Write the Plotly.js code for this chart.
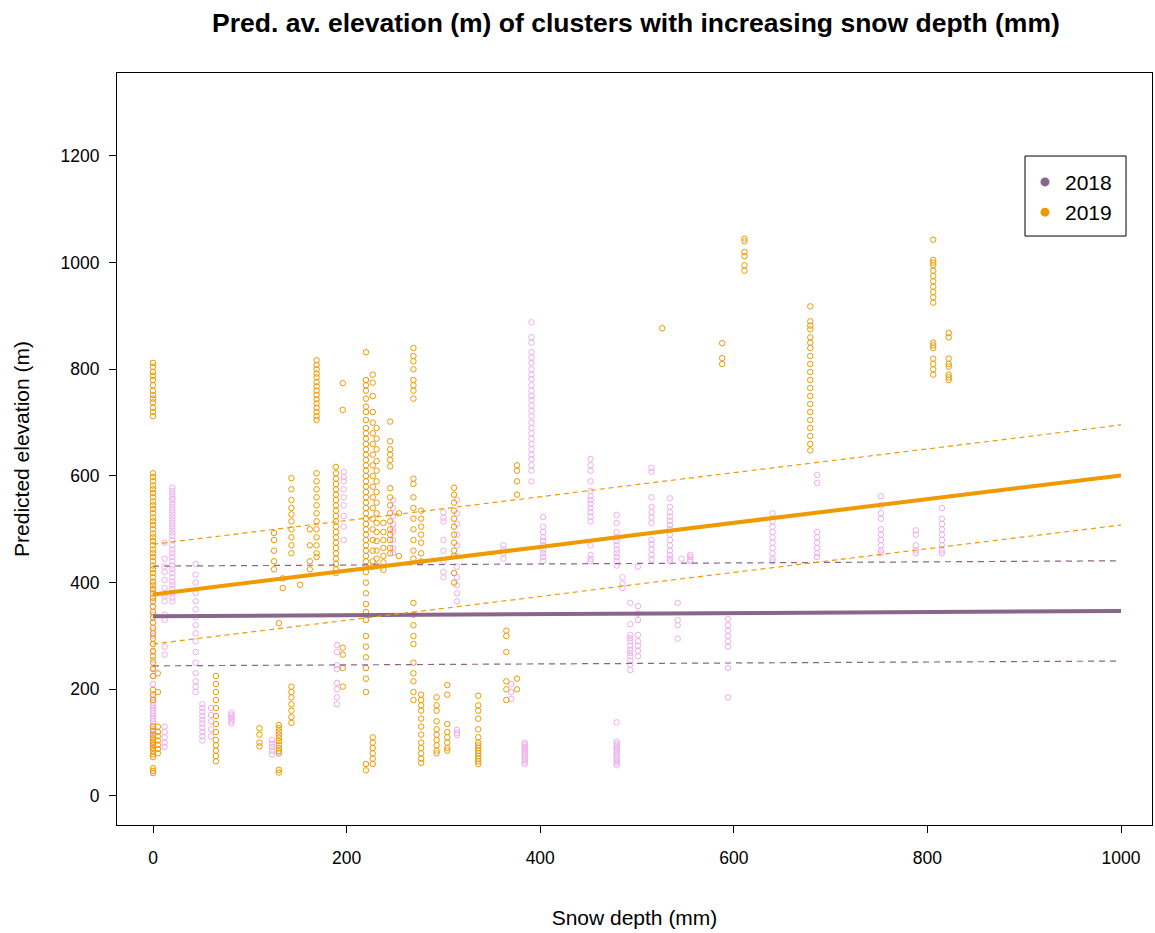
<!DOCTYPE html>
<html>
<head>
<meta charset="utf-8">
<script src="https://cdn.plot.ly/plotly-3.0.1.min.js"></script>
<style>html,body{margin:0;padding:0;background:#fff;}#chart{width:1155px;height:933px;}</style>
</head>
<body>
<div id="chart"></div>
<script>
// ---- Data ----
// Snow depth (mm) of each cluster column, and the predicted elevations (m) drawn at it
const snow2018 = [0, 12, 20, 44, 51, 60, 81, 123, 190, 197, 248, 300, 314, 362, 370, 384, 391, 403, 452, 479, 485, 493, 501, 515, 534, 542, 546, 555, 594, 640, 686, 752, 788, 815];
const elev2018 = [
  [400,385,370,355,340,325,310,300,285,270,255,240,225,210,186,180,175,170,165,160,155,150,145,140,135,130,125,120,115,110,105,100,95,90,88],
  [475,445,430,420,405,390,380,375,365,340,330,280,265,130,120,110,100,92],
  [578,572,566,560,555,548,542,536,530,524,518,512,506,500,494,488,480,470,462,455,448,440,432,425,418,410,402,395,388,380,372,365],
  [435,415,400,380,365,350,335,320,305,290,270,250,230,215,205,195],
  [172,165,158,150,143,136,128,120,112,104],
  [165,152,140,125,112],
  [156,152,148,144,140,136],
  [105,98,92,85,78],
  [283,270,245,238,212,200,185,172],
  [608,598,590,575,560,545,525,505,480],
  [555,540,525,510,500,495,480,465,455],
  [532,522,515,480,460,440,420,410],
  [555,530,510,490,470,450,430,410,395,380,365,124,118,114],
  [470,462,455,445],
  [210,195,182],
  [100,96,92,88,84,80,76,72,68,64,60],
  [888,860,850,832,822,812,800,790,782,770,760,750,742,732,722,712,700,690,680,670,660,650,640,632,620,610,590],
  [523,505,495,485,478,470,462,455,448,440],
  [632,620,610,590,572,562,555,548,540,532,524,515,470,452,445,440],
  [527,512,495,485,478,470,462,455,448,440,432,138,102,98,94,90,86,82,78,74,70,66,62,58],
  [410,398,390],
  [362,322,302,296,290,282,274,268,262,254,246,236],
  [430,356,342,330,302,290,282,272,262],
  [615,608,560,542,532,522,512,480,472,462,452,444],
  [558,542,532,524,516,508,500,490,480,470,460,452,445,440],
  [362,330,320,295],
  [445],
  [448,452,443,440],
  [332,320,310,300,290,280,240,185],
  [530,515,505,495,485,475,465,455,445,440],
  [602,587,495,485,475,465,455,448],
  [562,545,530,520,500,490,480,470,460,455],
  [498,490,470,460,455],
  [540,520,510,500,490,480,470,460,455]
];

const snow2019 = [0, 5, 65, 110, 125, 130, 134, 143, 152, 162, 169, 189, 196, 220, 227, 231, 238, 245, 254, 269, 277, 293, 304, 311, 336, 365, 376, 526, 588, 611, 679, 806, 822];
const elev2019 = [
  [812,805,795,788,780,770,760,752,745,738,728,720,712,605,598,590,582,575,568,560,552,545,538,530,522,515,508,500,492,485,478,470,462,455,448,440,432,425,418,410,402,395,388,380,372,365,355,345,335,325,315,305,295,285,272,262,250,238,225,199,190,180,130,122,115,108,102,96,90,84,78,73,52,47,43],
  [230,195,130,120,112,104,96,88,80],
  [225,210,195,180,165,150,135,120,105,95,85,75,65],
  [127,115,100,93],
  [493,480,460,440,425],
  [133,127,121,115,109,103,96,90,84,80,49,44,324],
  [408,390],
  [596,575,555,540,528,515,500,485,470,455,205,195,185,172,160,148,137],
  [396],
  [500,470,440,425],
  [817,808,800,792,785,776,768,760,752,744,736,728,720,712,705,605,590,575,560,545,530,515,500,485,470,455,448],
  [617,605,595,585,575,565,555,545,535,525,515,505,495,485,475,465,455,445,435,425,418],
  [774,724,278,265,240,205],
  [832,780,770,760,745,730,720,705,690,680,670,660,650,640,630,620,610,600,590,580,570,560,550,540,530,520,510,500,490,480,470,460,450,440,430,420,400,380,360,345,330,300,280,260,240,220,195,60,48],
  [790,775,750,720,700,680,660,640,620,600,580,560,540,520,500,480,460,440,430,110,100,90,80,70,60],
  [690,670,650,628,610,590,570,550,530,512,495,478,460,445,432],
  [512,495,480,465,450,438,424],
  [702,665,650,640,630,618,577,560,545,530,515,500,490,480,465,455],
  [530,450],
  [840,825,815,800,780,770,760,745,595,585,560,540,520,500,480,460,445,362,340,320,300,285,250,230,215,195,180],
  [535,520,505,490,475,455,440,190,180,170,160,145,130,115,100,90,80,70,62],
  [185,170,160,140,125,115,105,95,85,80],
  [208,190,135,120,110,100,90,85],
  [578,565,550,535,520,505,490,475,460,450,418,400],
  [188,170,160,145,125,110,100,95,90,85,80,75,70,65,60],
  [310,300,270,215,200,180],
  [620,610,590,565,220,200],
  [877],
  [849,821,810],
  [1045,1040,1020,1012,995,985],
  [918,890,882,875,860,850,840,825,810,795,780,765,750,735,720,705,690,675,660,648],
  [1043,1005,1000,995,985,975,965,955,945,935,925,850,845,840,820,810,800,790],
  [868,860,820,810,805,790,785,780]
];

// Fitted lines and intervals (m) at these snow depths
const fitSnow = [0, 100, 200, 300, 400, 500, 600, 700, 800, 900, 1000];
const fit2018 = [337, 338, 339, 340, 341, 342, 343, 344, 345, 346, 347];
const upr2018 = [431, 432, 433, 434, 435, 436, 437, 438, 439, 440, 441];
const lwr2018 = [244, 245, 246, 247, 248, 249, 250, 250, 251, 252, 253];
const fit2019 = [378, 400, 423, 445, 467, 490, 512, 534, 556, 579, 601];
const upr2019 = [472, 494, 517, 539, 561, 584, 606, 628, 651, 673, 696];
const lwr2019 = [285, 307, 330, 352, 374, 397, 419, 441, 463, 486, 508];

const years = ['2018', '2019'];
const xTicks = [0, 200, 400, 600, 800, 1000];
const yTicks = [0, 200, 400, 600, 800, 1000, 1200];

// ---- Build traces ----
const C_PT18 = '#EEAEEE', C_LN18 = '#8B668B', C_19 = '#EE9A00';

function flatten(xs, yss) {
  const X = [], Y = [];
  xs.forEach((x, i) => yss[i].forEach(y => { X.push(x); Y.push(y); }));
  return {X, Y};
}
const p18 = flatten(snow2018, elev2018);
const p19 = flatten(snow2019, elev2019);

const font = 'Liberation Sans, Arial, sans-serif';
const traces = [
  {x: p18.X, y: p18.Y, type: 'scatter', mode: 'markers', showlegend: false, hoverinfo: 'x+y',
   marker: {symbol: 'circle-open', size: 5.5, color: C_PT18, line: {width: 1, color: C_PT18}}},
  {x: p19.X, y: p19.Y, type: 'scatter', mode: 'markers', showlegend: false, hoverinfo: 'x+y',
   marker: {symbol: 'circle-open', size: 5.5, color: C_19, line: {width: 1, color: C_19}}},
  {x: fitSnow, y: upr2018, mode: 'lines', showlegend: false, line: {color: C_LN18, width: 1.2, dash: '6px,5px'}},
  {x: fitSnow, y: lwr2018, mode: 'lines', showlegend: false, line: {color: C_LN18, width: 1.2, dash: '6px,5px'}},
  {x: fitSnow, y: fit2018, mode: 'lines', showlegend: false, line: {color: C_LN18, width: 4}},
  {x: fitSnow, y: upr2019, mode: 'lines', showlegend: false, line: {color: C_19, width: 1.2, dash: '5px,4px'}},
  {x: fitSnow, y: lwr2019, mode: 'lines', showlegend: false, line: {color: C_19, width: 1.2, dash: '5px,4px'}},
  {x: fitSnow, y: fit2019, mode: 'lines', showlegend: false, line: {color: C_19, width: 4}},
  {x: [null], y: [null], mode: 'markers', name: years[0], marker: {symbol: 'circle', size: 9, color: C_LN18}},
  {x: [null], y: [null], mode: 'markers', name: years[1], marker: {symbol: 'circle', size: 9, color: C_19}}
];

const layout = {
  width: 1155, height: 933,
  margin: {l: 117, r: 3, t: 73, b: 108},
  paper_bgcolor: '#ffffff', plot_bgcolor: '#ffffff',
  font: {family: font, color: '#000000'},
  title: {text: '<b>Pred. av. elevation (m) of clusters with increasing snow depth (mm)</b>',
          font: {family: font, size: 26.5, color: '#000000'},
          x: 0.5014, xref: 'paper', xanchor: 'center', y: 0.976, yref: 'container', yanchor: 'middle'},
  xaxis: {range: [-37.2, 1032], tickvals: xTicks, ticktext: xTicks.map(String),
          ticks: 'outside', ticklen: 7, tickcolor: '#000', tickwidth: 1,
          showline: true, mirror: true, linecolor: '#000', linewidth: 1,
          showgrid: false, zeroline: false, tickfont: {family: font, size: 17.5},
          ticklabelstandoff: 10,
          title: {text: 'Snow depth (mm)', font: {family: font, size: 21}, standoff: 43}},
  yaxis: {range: [-54.4, 1355.6], tickvals: yTicks, ticktext: yTicks.map(String),
          ticks: 'outside', ticklen: 7, tickcolor: '#000', tickwidth: 1,
          showline: true, mirror: true, linecolor: '#000', linewidth: 1,
          showgrid: false, zeroline: false, tickfont: {family: font, size: 17.5},
          ticklabelstandoff: 6,
          title: {text: 'Predicted elevation (m)', font: {family: font, size: 21}, standoff: 25}},
  legend: {x: 0.8773, y: 0.882, xanchor: 'left', yanchor: 'top', bgcolor: 'rgba(0,0,0,0)',
           borderwidth: 0, font: {family: font, size: 21},
           itemwidth: 30, tracegroupgap: 0},
  shapes: [{type: 'rect', xref: 'paper', yref: 'paper', x0: 0.8773, x1: 0.9749, y0: 0.7832, y1: 0.8896,
            line: {color: '#000', width: 1}, fillcolor: 'rgba(0,0,0,0)', layer: 'below'}],
  showlegend: true
};

Plotly.newPlot('chart', traces, layout, {displayModeBar: false, staticPlot: true});
</script>
</body>
</html>
